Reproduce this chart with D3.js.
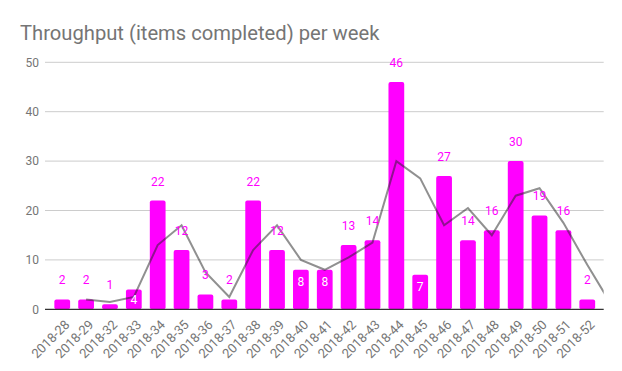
<!DOCTYPE html>
<html>
<head>
<meta charset="utf-8">
<script src="https://cdn.jsdelivr.net/npm/d3@7"></script>
<style>
  html, body { margin: 0; padding: 0; background: #fff; }
  svg { display: block; font-family: Roboto, Arial, sans-serif; }
</style>
</head>
<body>
<svg id="chart" width="622" height="371"></svg>
<script>
const weeks = ["2018-28","2018-29","2018-32","2018-33","2018-34","2018-35","2018-36","2018-37","2018-38","2018-39","2018-40","2018-41","2018-42","2018-43","2018-44","2018-45","2018-46","2018-47","2018-48","2018-49","2018-50","2018-51","2018-52"];
const throughput = [2,2,1,4,22,12,3,2,22,12,8,8,13,14,46,7,27,14,16,30,19,16,2];
// moving-average trend line values (first point empty, one trailing point past the end)
const trend = [null,2,1.5,2.5,13,17,7.5,2.5,12,17,10,8,10.5,13.5,30,26.5,17,20.5,15,23,24.5,17.5,9,1];
const yTicks = [0,10,20,30,40,50];
const insideLabels = ["2018-33","2018-40","2018-41","2018-45"];
const title = "Throughput (items completed) per week";

const svg = d3.select("#chart");
const plot = {left: 45, right: 603.7, top: 62.3, bottom: 309.3};

const x = d3.scaleBand().domain(weeks).range([50.3, 599.2]).paddingInner(0.34).paddingOuter(0.17);
const y = d3.scaleLinear().domain([0, 50]).range([plot.bottom, plot.top]);

svg.append("text")
  .attr("x", 20).attr("y", 39.5)
  .attr("fill", "#757575").attr("font-size", 20.2)
  .text(title);

// gridlines
svg.append("g").selectAll("line").data(yTicks.filter(d => d !== 0)).join("line")
  .attr("x1", plot.left).attr("x2", plot.right)
  .attr("y1", d => y(d)).attr("y2", d => y(d))
  .attr("stroke", "#cccccc").attr("stroke-width", 1);

// y axis labels
const yAxis = d3.axisLeft(y).tickValues(yTicks).tickSize(0).tickPadding(6);
svg.append("g").attr("transform", `translate(${plot.left},0)`).call(yAxis)
  .call(g => g.select(".domain").remove())
  .call(g => g.selectAll("text").attr("fill", "#757575").attr("font-size", 12).attr("font-family", "Roboto, Arial, sans-serif"));

// bars
svg.append("g").selectAll("rect").data(weeks).join("rect")
  .attr("x", d => x(d)).attr("width", x.bandwidth())
  .attr("y", (d, i) => y(throughput[i]))
  .attr("height", (d, i) => y(0) - y(throughput[i]))
  .attr("rx", 2).attr("ry", 2)
  .attr("fill", "#ff00ff");

// baseline
svg.append("line").attr("x1", plot.left).attr("x2", plot.right)
  .attr("y1", y(0)).attr("y2", y(0)).attr("stroke", "#333").attr("stroke-width", 1.3);

// trend line (clipped to plot)
svg.append("clipPath").attr("id", "clip").append("rect")
  .attr("x", plot.left).attr("y", 0).attr("width", plot.right - plot.left).attr("height", plot.bottom);
const step = x.step();
const trendX = i => x(weeks[0]) + x.bandwidth() / 2 + i * step;
const line = d3.line().defined(d => d != null).x((d, i) => trendX(i)).y(d => y(d));
svg.append("path").datum(trend)
  .attr("clip-path", "url(#clip)")
  .attr("d", line)
  .attr("fill", "none").attr("stroke", "#222").attr("stroke-opacity", 0.5).attr("stroke-width", 2);

// value labels
svg.append("g").selectAll("text").data(weeks).join("text")
  .attr("x", d => x(d) + x.bandwidth() / 2)
  .attr("y", (d, i) => insideLabels.includes(d)
      ? Math.min(y(throughput[i]) + 16.5, y(0) - 5)
      : y(throughput[i]) - 15)
  .attr("text-anchor", "middle")
  .attr("font-size", 12)
  .attr("fill", d => insideLabels.includes(d) ? "#ffffff" : "#ff00ff")
  .text((d, i) => throughput[i]);

// x axis labels
svg.append("g").selectAll("text").data(weeks).join("text")
  .attr("transform", d => `translate(${x(d) + x.bandwidth() / 2 + 5},${y(0) + 13}) rotate(-45)`)
  .attr("text-anchor", "end")
  .attr("dy", "0.35em")
  .attr("font-size", 13)
  .attr("fill", "#757575")
  .text(d => d);
</script>
</body>
</html>
